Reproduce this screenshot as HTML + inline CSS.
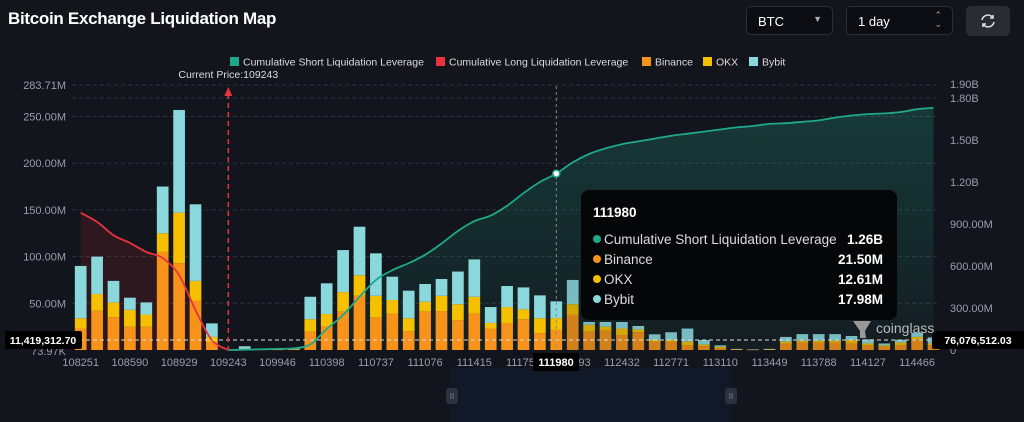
<!DOCTYPE html>
<html><head><meta charset="utf-8">
<style>
body{margin:0;background:#13151c;width:1024px;height:422px;overflow:hidden;font-family:"Liberation Sans",sans-serif;color:#fff}
.title{position:absolute;left:8px;top:9px;font-size:17px;font-weight:bold;letter-spacing:-0.3px}
.sel{position:absolute;top:6px;height:29px;border:1px solid #2c2f38;border-radius:5px;background:#0c0d12;font-size:13px;box-sizing:border-box;padding:7px 11px}
.btn{position:absolute;left:966px;top:6px;width:44px;height:30px;border-radius:5px;background:#2a2c33}
.tt{position:absolute;left:581px;top:190px;width:316px;height:130px;background:#050608;border-radius:8px;font-size:13.5px;color:#ddd}
.tt .row{position:absolute;left:12px;right:14px;height:18px}
.tt .row span.v{position:absolute;right:0;font-weight:bold;color:#fff}
.dot{display:inline-block;width:8px;height:8px;border-radius:50%;margin-right:3px;vertical-align:1px}
</style></head><body>
<div class="title">Bitcoin Exchange Liquidation Map</div>
<div class="sel" style="left:746px;width:87px">BTC<span style="position:absolute;right:10px;top:7px;font-size:9px;color:#aaa">▼</span></div>
<div class="sel" style="left:846px;width:107px">1 day<span style="position:absolute;right:10px;top:4px;font-size:9px;line-height:9px;color:#aaa">⌃<br>⌄</span></div>
<div class="btn"><svg width="44" height="30"><g fill="none" stroke="#ddd" stroke-width="1.6"><path d="M16 14a6 6 0 0 1 11-2"/><path d="M28 16a6 6 0 0 1-11 2"/><path d="M27 9v3h-3M17 21v-3h3"/></g></svg></div>
<svg id="chart" width="1024" height="422" style="position:absolute;left:0;top:0">
<defs>
<linearGradient id="gg" x1="0" y1="0" x2="0" y2="1"><stop offset="0" stop-color="#1fa88a" stop-opacity="0.25"/><stop offset="1" stop-color="#1fa88a" stop-opacity="0.05"/></linearGradient>
</defs>
<rect x="451" y="368" width="281" height="54" fill="#111827"/>
<rect x="446" y="388" width="12" height="16" rx="3" fill="#2b3140"/>
<rect x="725" y="388" width="12" height="16" rx="3" fill="#2b3140"/>
<text x="452" y="399" fill="#888" font-size="8" text-anchor="middle">II</text>
<text x="731" y="399" fill="#888" font-size="8" text-anchor="middle">II</text>
<g id="grid"></g><g id="areas"></g><g id="bars"></g><g id="lines"></g><g id="axes"></g>
</svg>
<div class="tt">
<div style="position:absolute;left:12px;top:15px;font-weight:bold;color:#fff">111980</div>
<div class="row" style="top:42px"><span class="dot" style="background:#1fa88a"></span>Cumulative Short Liquidation Leverage<span class="v">1.26B</span></div>
<div class="row" style="top:62px"><span class="dot" style="background:#f7931a"></span>Binance<span class="v">21.50M</span></div>
<div class="row" style="top:82px"><span class="dot" style="background:#f5c000"></span>OKX<span class="v">12.61M</span></div>
<div class="row" style="top:102px"><span class="dot" style="background:#8ad7dc"></span>Bybit<span class="v">17.98M</span></div>
</div>
<script>
const binance=[23,42,35,25,25,105,93,53,8.5,0,1,0.5,0.4,0.5,19.6,25.7,41,58,35,39,20,41,41.7,32,39,23,28.5,33,18,21.5,38,19.6,20.7,16,19,9,9,5,4,2,0.8,0.4,0.8,7,8,8,8,7,5,3.5,5,11.4,5];
const okx=[11,18,16,18,13,20,54,21,5.5,0,0.5,0.2,0.2,0.3,13.4,12.8,21,22,23,14.5,14,10.7,16.3,17,18,6,17.5,10.5,16,12.61,11,7.4,4.3,7,3,1.7,1.7,4,2,1.5,0.2,0.1,0.2,2,2,2,2,3.7,2,1.5,3,2.6,2];
const bybit=[56,40,23,13,13,50,110,82,14.5,0,2.5,0.5,0.5,0.7,24,32.9,45,52,45.5,25,29.5,19,18,35,40,17,22.5,23.5,24.5,17.98,26,3,5,7,3.7,6.1,8.3,14,4.7,1.5,0.2,0.1,0.2,5,7,7,7,4.3,4.4,2,3,4.5,6.5];
const longCum=[980,915,820,765,700,657,535,285,70,0];
const shortCum=[0,2,5,8,12,40,150,250,380,500,570,620,680,760,850,920,960,1030,1120,1200,1260,1340,1400,1440,1470,1490,1510,1530,1545,1560,1575,1590,1600,1615,1620,1630,1640,1660,1675,1685,1690,1700,1720,1730];
const shortStart=9;
const xLabels=["108251","108590","108929","109243","109946","110398","110737","111076","111415","111754","112093","112432","112771","113110","113449","113788","114127","114466"];
const leftTicks=[50,100,150,200,250,283.71];
const leftTickText=["50.00M","100.00M","150.00M","200.00M","250.00M","283.71M"];
const rightTicks=[300,600,900,1200,1500,1800,1900];
const rightTickText=["300.00M","600.00M","900.00M","1.20B","1.50B","1.80B","1.90B"];
const NS="http://www.w3.org/2000/svg";
const X=i=>80.7+i*16.4, YL=v=>350-v*0.934, YR=v=>350-v*0.14;
function mk(p,t,a){const e=document.createElementNS(NS,t);for(const k in a)e.setAttribute(k,a[k]);document.getElementById(p).appendChild(e);return e;}
leftTicks.forEach((v,i)=>{
 const l=mk('grid','line',{x1:72,x2:940,y1:YL(v),y2:YL(v),stroke:'#2e323c','stroke-dasharray':'4 3'});
 
 
 const t=mk('axes','text',{x:66,y:YL(v)+4,fill:'#9a9ea8','font-size':11,'text-anchor':'end'});t.textContent=leftTickText[i];
 
 
});
mk('grid','line',{x1:72,x2:940,y1:YR(1800),y2:YR(1800),stroke:'#2e323c','stroke-dasharray':'4 3'});
rightTicks.forEach((v,i)=>{
 const t=mk('axes','text',{x:950,y:YR(v)+4,fill:'#9a9ea8','font-size':11});t.textContent=rightTickText[i];
 
 
});
const z=mk('axes','text',{x:950,y:354,fill:'#9a9ea8','font-size':11});z.textContent='0';
const z2=mk('axes','text',{x:66,y:355,fill:'#9a9ea8','font-size':11,'text-anchor':'end'});z2.textContent='73.97K';
binance.forEach((b,i)=>{
 const w=11.7,x=X(i)-w/2;let base=0;
 [[b,'#f7931a','bar-binance'],[okx[i],'#f5c000','bar-okx'],[bybit[i],'#8ad7dc','bar-bybit']].forEach(([v,c,n])=>{
  if(v<=0)return;const r=mk('bars','rect',{x:x,y:YL(base+v),width:w,height:Math.max(YL(base)-YL(base+v),0.5),fill:c,opacity:i>29?0.85:1});
  
  
  base+=v;});
});
function smooth(pts){let d='M'+pts[0][0]+','+pts[0][1];for(let i=0;i<pts.length-1;i++){const p0=pts[i-1]||pts[i],p1=pts[i],p2=pts[i+1],p3=pts[i+2]||p2;
 d+=' C'+(p1[0]+(p2[0]-p0[0])/6)+','+(p1[1]+(p2[1]-p0[1])/6)+' '+(p2[0]-(p3[0]-p1[0])/6)+','+(p2[1]-(p3[1]-p1[1])/6)+' '+p2[0]+','+p2[1];}return d;}
const lp=longCum.map((v,i)=>[X(i),YR(v)]);const ld=smooth(lp);
const la=mk('areas','path',{d:ld+' L'+X(longCum.length-1)+',350 L'+X(0)+',350 Z',fill:'#e0303a',opacity:0.13});

const ll=mk('lines','path',{d:ld,fill:'none',stroke:'#e8333e','stroke-width':1.8});


const sp=shortCum.map((v,i)=>[X(i+shortStart),YR(v)]);const sd=smooth(sp);
const sa=mk('areas','path',{d:sd+' L'+sp[sp.length-1][0]+',350 L'+sp[0][0]+',350 Z',fill:'url(#gg)'});

const sl=mk('lines','path',{d:sd,fill:'none',stroke:'#1fa88a','stroke-width':1.8});


const hi=29;
mk('lines','line',{x1:X(hi),x2:X(hi),y1:86,y2:350,stroke:'#888','stroke-dasharray':'3 3'});
const hp=mk('lines','circle',{cx:X(hi),cy:YR(shortCum[hi-shortStart]),r:3.5,fill:'#fff',stroke:'#1fa88a','stroke-width':1.5});

mk('lines','line',{x1:72,x2:940,y1:340,y2:340,stroke:'#ddd','stroke-dasharray':'4 3'});
const cx=X(9);
mk('lines','line',{x1:cx,x2:cx,y1:94,y2:350,stroke:'#e8333e','stroke-width':1.5,'stroke-dasharray':'5 4'});
mk('lines','path',{d:`M${cx-4},96 L${cx},87 L${cx+4},96 Z`,fill:'#e8333e'});
const cp=mk('axes','text',{x:cx,y:78,fill:'#ddd','font-size':10.5,'text-anchor':'middle'});cp.textContent='Current Price:109243';

xLabels.forEach((s,i)=>{const t=mk('axes','text',{x:X(i*3),y:366,fill:'#9a9ea8','font-size':11,'text-anchor':'middle'});t.textContent=s;
 
 });
mk('axes','rect',{x:533,y:353,width:46,height:18,fill:'#000'});
const hx=mk('axes','text',{x:556,y:366,fill:'#fff','font-size':11,'font-weight':'bold','text-anchor':'middle'});hx.textContent='111980';
mk('axes','rect',{x:5,y:331,width:77,height:18,fill:'#000',rx:2});
const a1=mk('axes','text',{x:43,y:344,fill:'#fff','font-size':10.5,'font-weight':'bold','text-anchor':'middle'});a1.textContent='11,419,312.70';
mk('axes','rect',{x:932,y:331,width:92,height:18,fill:'#000',rx:2});
const a2=mk('axes','text',{x:978,y:344,fill:'#fff','font-size':10.5,'font-weight':'bold','text-anchor':'middle'});a2.textContent='76,076,512.03';
const wm=mk('axes','text',{x:876,y:333,fill:'#bbb','font-size':14});wm.textContent='coinglass';
mk('axes','path',{d:'M853,321 L871,321 L865,331 L866,338 L860,338 L860,331 Z',fill:'#999'});
const legend=[['Cumulative Short Liquidation Leverage','#1fa88a',230],['Cumulative Long Liquidation Leverage','#e8333e',436],['Binance','#f7931a',642],['OKX','#f5c000',703],['Bybit','#8ad7dc',749]];
legend.forEach(([n,c,x])=>{const r=mk('axes','rect',{x:x,y:57,width:9,height:9,fill:c});
 
 const t=mk('axes','text',{x:x+13,y:65.5,fill:'#ddd','font-size':10.5});t.textContent=n;
 });
</script>
</body></html>
